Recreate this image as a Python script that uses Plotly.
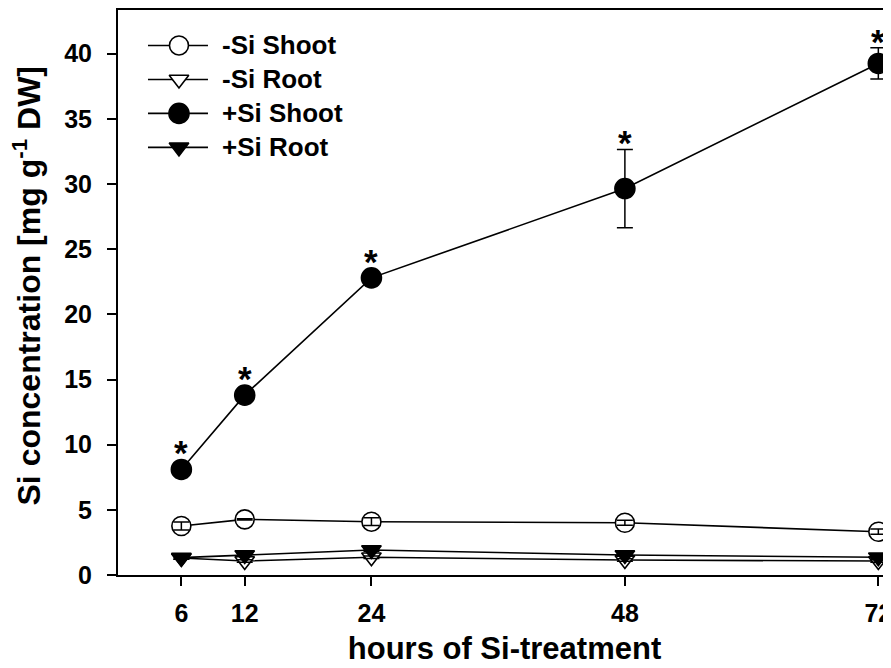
import plotly.graph_objects as go

# ---- data ----
hours = [6, 12, 24, 48, 72]
minus_si_shoot = [3.76, 4.27, 4.09, 4.01, 3.32]
minus_si_shoot_err = [0.3, 0.05, 0.3, 0.2, 0.2]
minus_si_root = [1.3, 1.07, 1.36, 1.15, 1.07]
minus_si_root_err = [0.1, 0.1, 0.1, 0.1, 0.1]
plus_si_shoot = [8.1, 13.8, 22.8, 29.65, 39.25]
plus_si_shoot_err = [0.3, 0.4, 0.4, 3.0, 1.2]
plus_si_root = [1.33, 1.53, 1.92, 1.53, 1.36]
plus_si_root_err = [0.1, 0.1, 0.1, 0.1, 0.1]
significant = [True, True, True, True, True]

x_ticks = [6, 12, 24, 48, 72]
y_ticks = [0, 5, 10, 15, 20, 25, 30, 35, 40]

legend_names = ["-Si Shoot", "-Si Root", "+Si Shoot", "+Si Root"]
x_title = "hours of Si-treatment"
y_title = "Si concentration [mg g<sup>-1</sup> DW]"

FONT = "Liberation Sans, Arial, sans-serif"
# the page body has an 8px margin, so the figure is a bit smaller than the window
W, H = 883, 660
ML, MR, MT, MB = 109.8, 0, 1.5, 93
PW = W - ML - MR
PH = H - MT - MB
PX_PER_UNIT = PH / 43.35

series = [
    (minus_si_shoot, minus_si_shoot_err, "circle", "white", 19),
    (minus_si_root, minus_si_root_err, "triangle-down", "white", 17),
    (plus_si_shoot, plus_si_shoot_err, "circle", "black", 20),
    (plus_si_root, plus_si_root_err, "triangle-down", "black", 17),
]

fig = go.Figure()

for (vals, errs, sym, fill, size), name in zip(series, legend_names):
    fig.add_trace(go.Scatter(
        x=hours, y=vals, mode="lines+markers", name=name, showlegend=False,
        line=dict(color="black", width=1.6),
        marker=dict(symbol=sym, size=size, color=fill,
                    line=dict(color="black", width=1.6)),
        cliponaxis=False,
    ))
    # error bars drawn above the markers
    fig.add_trace(go.Scatter(
        x=hours, y=vals, mode="markers", showlegend=False, hoverinfo="skip",
        marker=dict(size=1, opacity=0),
        error_y=dict(type="data", array=errs, visible=True, color="black",
                     thickness=1.5, width=8),
        cliponaxis=False,
    ))

# significance asterisks above +Si Shoot
for xv, yv, ev, sig in zip(hours, plus_si_shoot, plus_si_shoot_err, significant):
    if sig:
        fig.add_annotation(
            x=xv, y=yv + ev, xref="x", yref="y", text="<b>*</b>",
            showarrow=False, yanchor="bottom",
            yshift=max(10 - ev * PX_PER_UNIT, 0) - 15,
            font=dict(family=FONT, size=35, color="black"),
        )

# custom legend (long line with centred marker), on an overlay axis in 0..1 units
REF_L, REF_B = 118, 575
leg_x0 = (148 - REF_L) / PW
leg_x1 = (208 - REF_L) / PW
leg_xm = (179 - REF_L) / PW
leg_tx = (220 - REF_L) / PW
leg_rows = [(REF_B - py) / PH for py in (45, 79, 113, 147)]

for (vals, errs, sym, fill, size), name, ly in zip(series, legend_names, leg_rows):
    fig.add_trace(go.Scatter(
        x=[leg_x0, leg_x1], y=[ly, ly], xaxis="x2", yaxis="y2", mode="lines",
        line=dict(color="black", width=1.6), showlegend=False, hoverinfo="skip",
    ))
    fig.add_trace(go.Scatter(
        x=[leg_xm], y=[ly], xaxis="x2", yaxis="y2", mode="markers",
        marker=dict(symbol=sym, size=size, color=fill, line=dict(color="black", width=1.6)),
        showlegend=False, hoverinfo="skip",
    ))
    fig.add_annotation(
        x=leg_tx, y=ly, xref="x2", yref="y2", text=f"<b>{name}</b>",
        showarrow=False, xanchor="left", yanchor="middle",
        font=dict(family=FONT, size=26, color="black"),
    )

# y-axis title as a rotated annotation (lets it sit slightly above the axis centre)
fig.add_annotation(
    x=(27 - 8 - ML) / PW, y=(H - MB - (286 - 8)) / PH, xref="paper", yref="paper",
    text=f"<b>{y_title}</b>", textangle=-90, showarrow=False,
    xanchor="center", yanchor="middle",
    font=dict(family=FONT, size=32, color="black"),
)

fig.update_layout(
    width=W, height=H,
    margin=dict(l=ML, r=MR, t=MT, b=MB),
    paper_bgcolor="white", plot_bgcolor="white",
    font=dict(family=FONT, color="black"),
    showlegend=False,
    xaxis=dict(
        range=[0, 73.2], tickvals=x_ticks, ticktext=[str(v) for v in x_ticks],
        showgrid=False, zeroline=False, showline=True, linecolor="black", linewidth=2,
        mirror=True, ticks="outside", ticklen=9, tickwidth=1.5, tickcolor="black",
        tickfont=dict(family=FONT, size=25, color="black", weight="bold"),
        ticklabelstandoff=6, ticklabeloverflow="allow",
        title=dict(text=f"<b>{x_title}</b>", standoff=11,
                   font=dict(family=FONT, size=31, color="black")),
        automargin=False,
    ),
    yaxis=dict(
        range=[0, 43.35], tickvals=y_ticks, ticktext=[str(v) for v in y_ticks],
        showgrid=False, zeroline=False, showline=True, linecolor="black", linewidth=2,
        mirror=False, ticks="outside", ticklen=9, tickwidth=1.5, tickcolor="black",
        tickfont=dict(family=FONT, size=25, color="black", weight="bold"),
        ticklabelstandoff=10,
        automargin=False,
    ),
    xaxis2=dict(range=[0, 1], overlaying="x", visible=False, fixedrange=True),
    yaxis2=dict(range=[0, 1], overlaying="y", visible=False, fixedrange=True),
)

fig.write_html("out.html")
